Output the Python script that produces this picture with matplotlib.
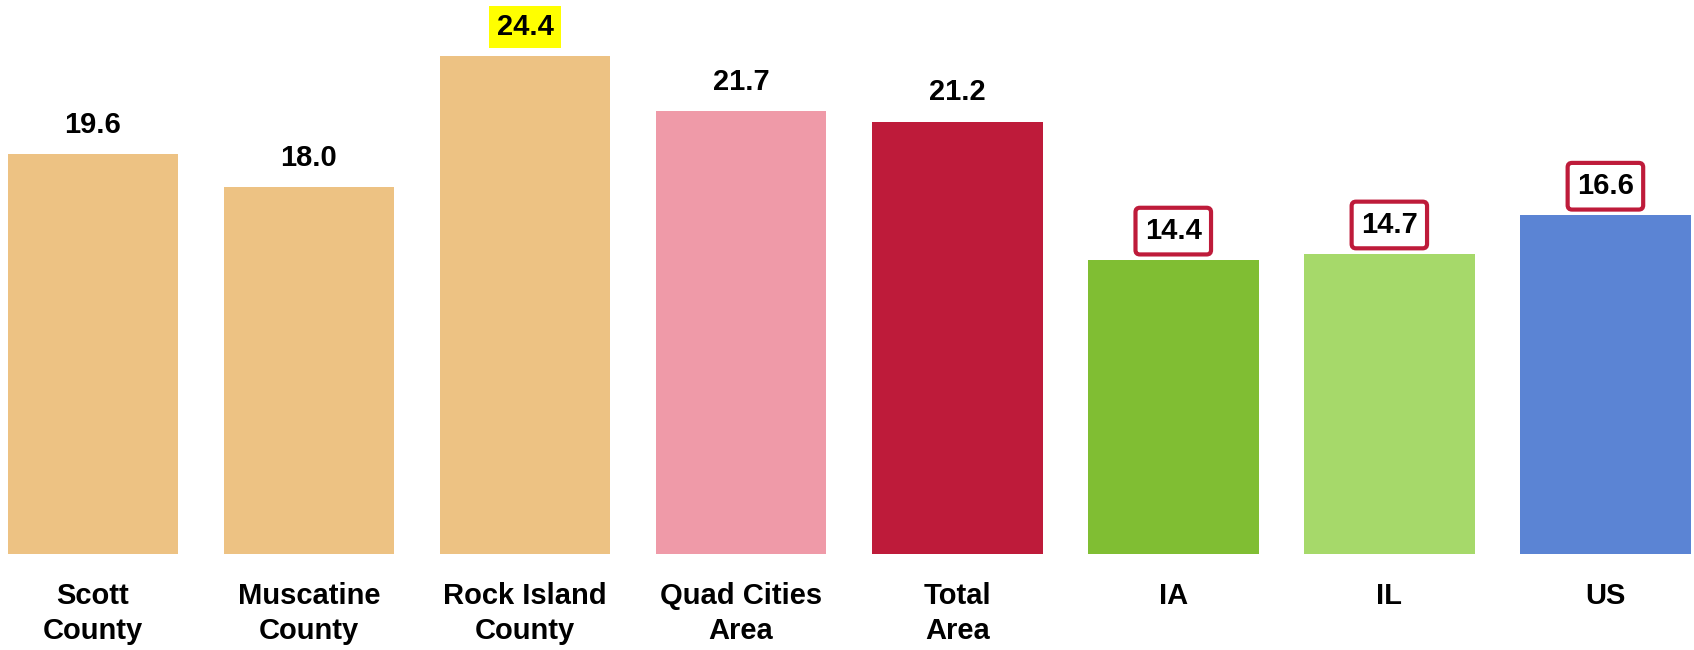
import matplotlib
matplotlib.use("Agg")
import matplotlib.pyplot as plt

categories = ["Scott\nCounty", "Muscatine\nCounty", "Rock Island\nCounty", "Quad Cities\nArea",
              "Total\nArea", "IA", "IL", "US"]
values = [19.6, 18.0, 24.4, 21.7, 21.2, 14.4, 14.7, 16.6]
colors = ["#EDC283", "#EDC283", "#EDC283", "#EF9AA8", "#BE1B3A", "#80BE33", "#A6D96A", "#5B84D4"]
highlight = ["", "", "yellow", "", "", "box", "box", "box"]

plt.rcParams['font.family'] = ['Liberation Sans Narrow', 'Liberation Sans', 'DejaVu Sans']

fig = plt.figure(figsize=(16.94, 6.5), dpi=100)
ax = fig.add_axes([0, 0.1477, 1, 0.8523])

x = range(len(values))
ax.bar(x, values, width=0.79, color=colors)

for i, v in enumerate(values):
    kw = {}
    if highlight[i] == "yellow":
        kw["bbox"] = dict(boxstyle="square,pad=0.25", facecolor="#FFFF00", edgecolor="none")
    elif highlight[i] == "box":
        kw["bbox"] = dict(boxstyle="round,pad=0.32,rounding_size=0.15", facecolor="white",
                          edgecolor="#BE1B3A", linewidth=3)
    ax.annotate(f"{v:.1f}", (i, v), xytext=(0, 21), textcoords="offset points",
                ha="center", va="center", fontsize=21, fontweight="bold", **kw)

ax.set_xlim(-0.43, 7.41)
ax.set_ylim(0, 27.16)
ax.set_xticks(list(x))
ax.set_xticklabels(categories, fontsize=21, fontweight="bold", linespacing=1.32)
ax.tick_params(axis="x", length=0, pad=20)
ax.set_yticks([])
for s in ax.spines.values():
    s.set_visible(False)

fig.savefig("out.png", dpi=100)
